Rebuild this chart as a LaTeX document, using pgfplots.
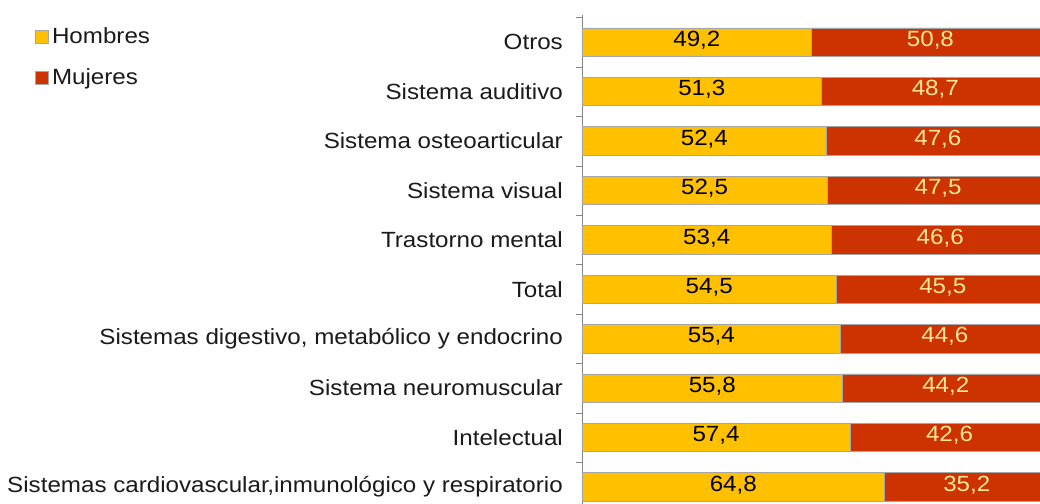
\documentclass[border=0pt]{standalone}
\usepackage{fontspec}
\setmainfont{Liberation Sans}[FakeStretch=1.1]
\usepackage{pgfplots}
\pgfplotsset{compat=1.18}
\usepackage{pgfplotstable}

\definecolor{hombres}{HTML}{FFC000}
\definecolor{mujeres}{HTML}{CC3300}
\definecolor{lblmuj}{HTML}{FFE699}
\definecolor{barline}{HTML}{A6A6A6}
\definecolor{axline}{HTML}{868686}
\definecolor{txt}{HTML}{1A1A1A}

% porcentaje de hombres (h) y mujeres (m) por tipo de discapacidad
\pgfplotstableread{
pos h    m
0   64.8 35.2
1   57.4 42.6
2   55.8 44.2
3   55.4 44.6
4   54.5 45.5
5   53.4 46.6
6   52.5 47.5
7   52.4 47.6
8   51.3 48.7
9   49.2 50.8
}\datos

\pgfplotsset{
  marco/.style={
    scale only axis,
    width=9.16cm,
    height=9.78cm,
    xmin=0, xmax=98.07,
    ymin=-0.345, ymax=9.55,
  },
  etiqueta/.style={
    draw=none, mark=none,
    point meta=explicit,
    nodes near coords,
    every node near coord/.append style={anchor=center, inner sep=0pt,
      yshift=0.04cm,
      font=\fontsize{12.5pt}{15pt}\selectfont, text=#1},
  },
}

\begin{document}
\fontsize{12.5pt}{15pt}\selectfont
\begin{tikzpicture}
\begin{axis}[
  marco,
  xbar stacked,
  bar width=0.57cm,
  axis x line=none,
  axis y line=left,
  axis line style={-, draw=axline},
  ytick={0,...,9},
  yticklabels={{Sistemas cardiovascular\kern-0.08em,inmunológico y respiratorio},
    Intelectual, Sistema neuromuscular,
    {Sistemas digestivo, metabólico y endocrino},
    Total, Trastorno mental, Sistema visual, Sistema osteoarticular,
    Sistema auditivo, Otros},
  major tick length=0pt,
  minor ytick={-0.5,0.5,...,9.5},
  minor tick length=0.12cm,
  tick align=outside,
  minor tick style={draw=axline},
  yticklabel style={text=txt, font=\fontsize{12.5pt}{15pt}\selectfont, xshift=-0.23cm},
  legend style={at={(axis description cs:-1.207,0.99)}, anchor=north west,
    draw=none, fill=none, row sep=0.3cm,
    font=\fontsize{12.5pt}{15pt}\selectfont, text=txt},
  legend cell align=left,
  legend image code/.code={\draw[#1, draw=barline] (0cm,-0.13cm) rectangle (0.26cm,0.13cm);},
]
\addplot[fill=hombres, draw=barline] table[x=h, y=pos] {\datos};
\addplot[fill=mujeres, draw=barline] table[x=m, y=pos] {\datos};
\legend{Hombres, Mujeres}
\end{axis}
% etiquetas centradas en cada segmento
\begin{axis}[
  marco,
  hide axis,
  /pgf/number format/assume math mode=true,
  /pgf/number format/.cd, use comma, fixed, fixed zerofill, precision=1, /pgfplots/.cd,
]
\addplot[etiqueta=black] table[x expr=\thisrow{h}/2, y=pos, meta=h] {\datos};
\addplot[etiqueta=lblmuj] table[x expr=\thisrow{h}+\thisrow{m}/2, y=pos, meta=m] {\datos};
\end{axis}
\pgfresetboundingbox
\useasboundingbox ([xshift=-11.64cm]current axis.south west) rectangle ([yshift=0.3cm]current axis.north east);
\end{tikzpicture}
\end{document}
